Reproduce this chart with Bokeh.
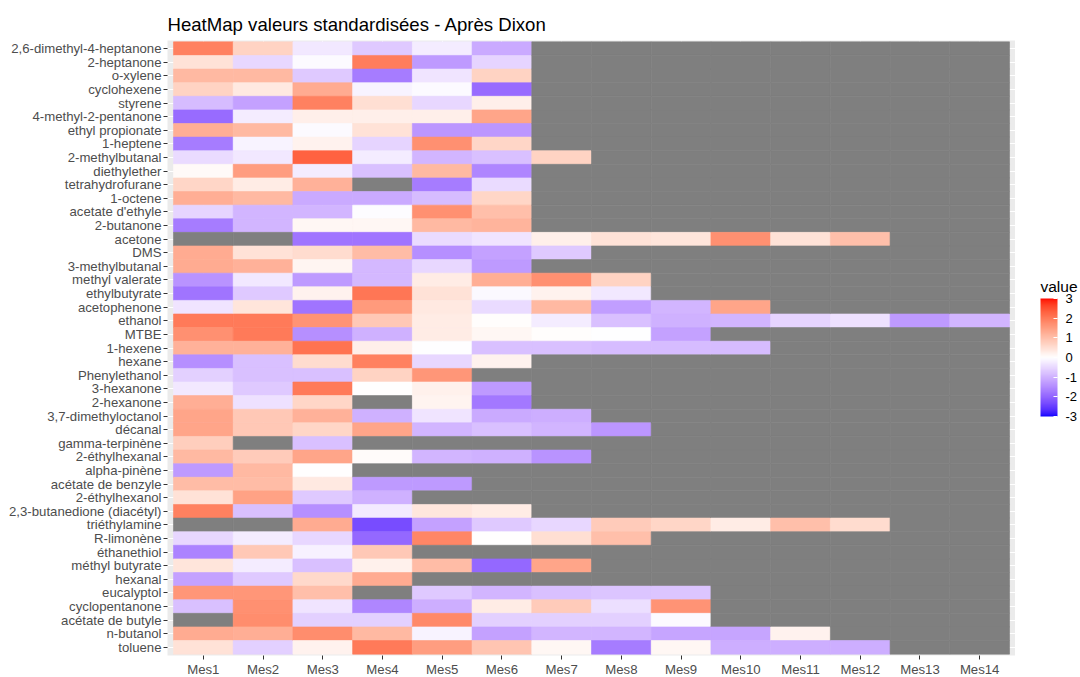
import numpy as np
from bokeh.plotting import figure
from bokeh.layouts import row
from bokeh.models import (FactorRange, Range1d, ColumnDataSource, LinearColorMapper,
                          ColorBar, FixedTicker)
from bokeh.core.properties import value as bvalue
from bokeh.embed import file_html
from bokeh.resources import INLINE

N = None

compounds = [
    "2,6-dimethyl-4-heptanone", "2-heptanone", "o-xylene", "cyclohexene", "styrene",
    "4-methyl-2-pentanone", "ethyl propionate", "1-heptene", "2-methylbutanal", "diethylether",
    "tetrahydrofurane", "1-octene", "acetate d'ethyle", "2-butanone", "acetone",
    "DMS", "3-methylbutanal", "methyl valerate", "ethylbutyrate", "acetophenone",
    "ethanol", "MTBE", "1-hexene", "hexane", "Phenylethanol",
    "3-hexanone", "2-hexanone", "3,7-dimethyloctanol", "décanal", "gamma-terpinène",
    "2-éthylhexanal", "alpha-pinène", "acétate de benzyle", "2-éthylhexanol", "2,3-butanedione (diacétyl)",
    "triéthylamine", "R-limonène", "éthanethiol", "méthyl butyrate", "hexanal",
    "eucalyptol", "cyclopentanone", "acétate de butyle", "n-butanol", "toluene",
]

mes = ["Mes%d" % i for i in range(1, 15)]

mes1 = [1.9, 0.45, 1.1, 0.7, -0.85, -1.9, 1.25, -1.7, -0.45, 0.08,
        0.65, 1.25, -0.55, -1.7, N, 1.3, 1.3, -1.4, -1.8, -0.35,
        2.0, 1.7, 1.2, -1.45, -0.6, -0.3, 1.25, 1.4, 1.4, 0.75,
        1.1, -1.3, 1.05, 0.45, 1.9, N, -0.5, -1.6, 0.4, -1.2,
        1.6, -0.8, N, 1.3, 0.45]
mes2 = [0.7, -0.5, 1.1, 0.35, -1.2, -0.25, 1.1, -0.15, -0.3, 1.5,
        0.3, 1.1, -0.95, -0.95, N, 0.45, 1.2, -0.3, -0.7, 0.4,
        2.0, 2.0, 1.2, -0.8, -0.8, -0.7, -0.38, 0.85, 0.85, N,
        0.8, 1.1, 1.05, 1.45, -0.8, N, -0.25, 0.85, -0.25, -0.7,
        1.6, 1.7, 1.75, 1.25, -0.6]
mes3 = [-0.3, -0.05, -0.7, 1.3, 1.9, 0.25, -0.05, 0.2, 2.3, -0.25,
        1.2, -1.1, -0.95, 0.12, -1.8, 0.55, 0.15, -1.3, 0.2, -1.8,
        1.65, -1.45, 2.1, 0.55, -0.8, 2.0, 0.65, 1.2, 0.65, -0.8,
        1.4, 0.0, 0.35, -0.7, -1.45, 1.3, -0.5, -0.18, -0.8, 0.6,
        1.0, -0.35, -0.6, 1.75, 0.2]
mes4 = [-0.7, 1.95, -1.7, -0.15, 0.5, 0.25, 0.45, -0.55, -0.25, -0.8,
        N, -1.1, -0.03, 0.12, -1.8, 1.05, -0.9, -0.9, 2.05, 1.55,
        0.85, -1.0, 0.25, 1.9, 0.7, 0.0, N, -1.0, 1.4, N,
        0.05, N, -1.3, -1.0, -0.28, -2.3, -1.95, 0.85, 0.22, 1.3,
        N, -1.55, -0.6, 1.1, 2.0]
mes5 = [-0.25, -1.3, -0.35, -0.05, -0.5, 0.25, -1.35, 1.7, -0.95, 1.1,
        -1.7, -0.85, 1.7, 1.1, -0.45, -1.45, -0.5, 0.3, 0.45, 0.35,
        0.3, 0.3, -0.02, -0.5, 1.6, 0.22, 0.18, -0.35, -0.95, N,
        -0.95, N, -1.3, N, 0.38, -1.2, 1.85, N, 1.05, N,
        -0.7, -1.05, 1.8, -0.15, 1.5]
mes6 = [-1.1, -0.55, 0.7, -1.9, 0.25, 1.4, -1.35, 0.65, -0.8, -1.55,
        -0.45, 0.65, 1.0, 1.15, -0.35, -1.2, -1.3, 1.25, -0.08, -0.45,
        0.03, 0.12, -0.8, 0.2, N, -1.3, -1.75, -1.1, -0.8, N,
        -1.0, N, N, N, 0.3, -0.7, 0.02, N, -1.95, N,
        -0.95, 0.3, -0.6, -1.2, 0.9]
mes7 = [N, N, N, N, N, N, N, N, 0.7, N,
        N, N, N, N, 0.25, -0.7, N, 1.7, 0.2, 1.1,
        -0.25, 0.03, -0.8, N, N, N, N, -1.05, -0.95, N,
        -1.4, N, N, N, N, -0.5, 0.5, N, 1.4, N,
        -0.8, 0.8, -0.6, -0.95, 0.12]
mes8 = [N] * 10 + [N, N, N, N, 0.45, N, N, 0.7, -0.3, -1.25,
                   -0.8, -0.02, -0.85, N, N, N, N, N, -1.35, N,
                   N, N, N, N, N, 0.8, 1.0, N, N, N,
                   -0.75, -0.42, -0.6, -0.95, -1.7]
mes9 = [N] * 10 + [N, N, N, N, 0.4, N, N, N, N, -0.95,
                   -1.0, -1.2, -0.85, N, N, N, N, N, N, N,
                   N, N, N, N, N, 0.65, N, N, N, N,
                   -0.75, 1.65, -0.06, -1.15, 0.12]
mes10 = [N] * 10 + [N, N, N, N, 1.7, N, N, N, N, 1.4,
                    -0.95, N, -0.85, N, N, N, N, N, N, N,
                    N, N, N, N, N, 0.3, N, N, N, N,
                    N, N, N, -1.15, -1.05]
mes11 = [N] * 10 + [N, N, N, N, 0.45, N, N, N, N, N,
                    -0.55, N, N, N, N, N, N, N, N, N,
                    N, N, N, N, N, 1.0, N, N, N, N,
                    N, N, N, 0.2, -1.05]
mes12 = [N] * 10 + [N, N, N, N, 1.0, N, N, N, N, N,
                    -0.38, N, N, N, N, N, N, N, N, N,
                    N, N, N, N, N, 0.55, N, N, N, N,
                    N, N, N, N, -1.05]
mes13 = [N] * 20 + [-1.3] + [N] * 24
mes14 = [N] * 20 + [-0.95] + [N] * 24

columns = [mes1, mes2, mes3, mes4, mes5, mes6, mes7, mes8, mes9, mes10,
           mes11, mes12, mes13, mes14]

legend_ticks = [-3, -2, -1, 0, 1, 2, 3]


# ---- Lab-space diverging gradient (blue - white - red), like scale_fill_gradient2
def srgb_to_lab(rgb):
    c = np.array(rgb, dtype=float) / 255.0
    lin = np.where(c <= 0.04045, c / 12.92, ((c + 0.055) / 1.055) ** 2.4)
    M = np.array([[0.4124, 0.3576, 0.1805], [0.2126, 0.7152, 0.0722], [0.0193, 0.1192, 0.9505]])
    xyz = M @ lin / np.array([0.95047, 1.0, 1.08883])
    f = np.where(xyz > 0.008856, np.cbrt(xyz), 7.787 * xyz + 16 / 116)
    return np.array([116 * f[1] - 16, 500 * (f[0] - f[1]), 200 * (f[1] - f[2])])


def lab_to_hex(lab):
    L, a, b = lab
    fy = (L + 16) / 116
    fx = fy + a / 500
    fz = fy - b / 200

    def finv(t):
        return t ** 3 if t ** 3 > 0.008856 else (t - 16 / 116) / 7.787

    xyz = np.array([finv(fx) * 0.95047, finv(fy), finv(fz) * 1.08883])
    Minv = np.array([[3.2406, -1.5372, -0.4986], [-0.9689, 1.8758, 0.0415], [0.0557, -0.2040, 1.0570]])
    lin = np.clip(Minv @ xyz, 0, 1)
    c = np.where(lin <= 0.0031308, 12.92 * lin, 1.055 * lin ** (1 / 2.4) - 0.055)
    return "#%02x%02x%02x" % tuple(int(round(v * 255)) for v in np.clip(c, 0, 1))


lab_low = srgb_to_lab((0, 0, 255))
lab_mid = srgb_to_lab((255, 255, 255))
lab_high = srgb_to_lab((255, 0, 0))
palette = []
for t in np.linspace(0, 1, 256):
    if t <= 0.5:
        s = t / 0.5
        lab = lab_low + (lab_mid - lab_low) * s
    else:
        s = (t - 0.5) / 0.5
        lab = lab_mid + (lab_high - lab_mid) * s
    palette.append(lab_to_hex(lab))

mapper = LinearColorMapper(palette=palette, low=-3, high=3, nan_color="#7F7F7F")

xs, ys, vals = [], [], []
for j, col in enumerate(columns):
    for i, v in enumerate(col):
        xs.append(mes[j])
        ys.append(compounds[i])
        vals.append(np.nan if v is None else float(v))

src = ColumnDataSource(data=dict(x=xs, y=ys, value=np.array(vals, dtype=float)))

FONT = "Liberation Sans"
TOP, FRAME_H, BOTTOM = 40, 615, 20
TOTAL_H = TOP + FRAME_H + BOTTOM

p = figure(
    x_range=FactorRange(factors=mes, range_padding=0.1, range_padding_units="absolute"),
    y_range=FactorRange(factors=compounds[::-1], range_padding=0.1, range_padding_units="absolute"),
    frame_width=848, frame_height=FRAME_H,
    min_border_left=167, min_border_right=0, min_border_top=TOP, min_border_bottom=BOTTOM,
    output_backend="svg", toolbar_location=None,
    title="HeatMap valeurs standardisées - Après Dixon",
)

p.background_fill_color = "#EBEBEB"
p.border_fill_color = "white"
p.outline_line_color = None

p.rect(x="x", y="y", width=1, height=1, source=src,
       fill_color={"field": "value", "transform": mapper},
       line_color={"field": "value", "transform": mapper}, line_width=0.6)

for g in (p.xgrid, p.ygrid):
    g.grid_line_color = "white"
    g.grid_line_width = 1.1

for ax in (p.xaxis, p.yaxis):
    ax.axis_line_color = None
    ax.major_tick_line_color = "#333333"
    ax.major_tick_out = 4
    ax.major_tick_in = 0
    ax.minor_tick_line_color = None
    ax.major_label_text_font = FONT
    ax.major_label_text_font_size = "13.2px"
    ax.major_label_text_color = "#4D4D4D"
    ax.major_label_standoff = 2

p.title.text_font = FONT
p.title.text_font_size = "18.6px"
p.title.text_font_style = "normal"
p.title.text_color = "black"
p.title.standoff = 11

# ---- legend panel (separate small figure to the right, frame aligned with main frame)
LEG_W = 65
FRAME_BOTTOM_PX = TOP + FRAME_H  # pixel row of the frame bottom
lf = figure(width=LEG_W, height=TOTAL_H, frame_width=LEG_W, frame_height=FRAME_H,
            x_range=Range1d(0, LEG_W), y_range=Range1d(0, FRAME_H),
            min_border_left=0, min_border_right=0, min_border_top=TOP, min_border_bottom=BOTTOM,
            output_backend="svg", toolbar_location=None,
            x_axis_location=None, y_axis_location=None)
lf.grid.visible = False
lf.outline_line_color = None
lf.background_fill_color = "white"
lf.border_fill_color = "white"

cb = ColorBar(
    color_mapper=mapper,
    ticker=FixedTicker(ticks=legend_ticks),
    major_label_overrides={t: str(t) for t in legend_ticks},
    width=17, height=118,
    major_label_text_font=FONT, major_label_text_font_size="13px",
    major_label_text_color="black",
    major_tick_line_color="white", major_tick_in=4, major_tick_out=0,
    minor_tick_line_color=None, bar_line_color=None,
    label_standoff=8, padding=0, margin=0, location=(25, FRAME_BOTTOM_PX - 416),
    background_fill_color=None, border_line_color=None,
)
lf.add_layout(cb)

lf.text(x=[25], y=[FRAME_BOTTOM_PX - 286], text=["value"], text_font=bvalue(FONT),
        text_font_size="15.5px", text_color="black",
        text_baseline="alphabetic", text_align="left")

layout = row(p, lf, spacing=0)

open("out.html", "w").write(file_html(layout, INLINE))
